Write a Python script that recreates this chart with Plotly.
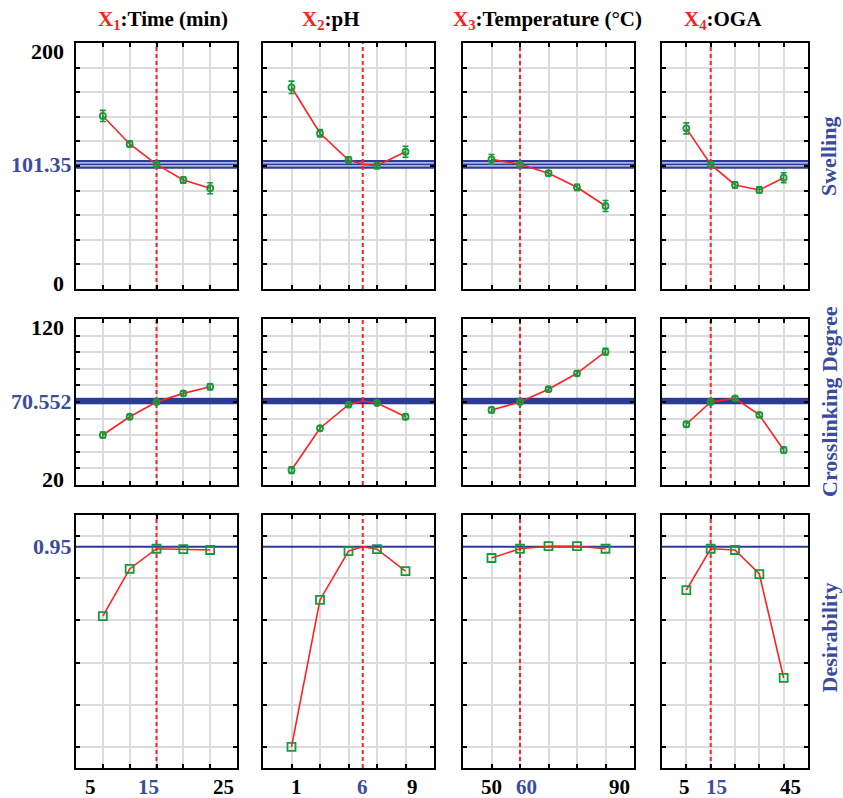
import plotly.graph_objects as go

W, H = 843, 798

# ---- factor levels (x) -------------------------------------------------
time_levels = [5, 10, 15, 20, 25]
ph_levels = [1, 3, 5, 7, 9]
temp_levels = [50, 60, 70, 80, 90]
oga_levels = [5, 15, 25, 35, 45]
optimum = [15, 6, 60, 15]

factor_labels = ["Time (min)", "pH", "Temperature (°C)", "OGA"]
response_labels = ["Swelling", "Crosslinking Degree", "Desirability"]

# x tick labels shown under the bottom row
xtick_vals = [[5, 15, 25], [1, 6, 9], [50, 60, 90], [5, 15, 45]]

# ---- responses at each level -------------------------------------------
swelling_time = [140.7, 117.9, 101.35, 88.6, 81.9]
swelling_ph = [164.0, 126.6, 104.9, 100.3, 111.6]
swelling_temp = [105.4, 101.35, 94.1, 82.7, 67.5]
swelling_oga = [130.6, 101.35, 84.6, 80.5, 90.5]

swelling_err_time = [4.5, 2.5, 2.0, 2.5, 4.5]
swelling_err_ph = [5.0, 3.0, 2.5, 2.5, 4.5]
swelling_err_temp = [4.0, 2.0, 2.0, 2.5, 4.5]
swelling_err_oga = [4.5, 2.0, 2.5, 2.5, 4.0]

crosslink_time = [50.1, 61.1, 70.0, 75.2, 79.2]
crosslink_ph = [29.0, 54.2, 68.4, 69.4, 61.1]
crosslink_temp = [65.2, 70.0, 77.7, 87.3, 100.3]
crosslink_oga = [56.6, 70.0, 72.2, 62.2, 41.1]

crosslink_err_time = [1.8, 1.3, 1.0, 1.3, 1.8]
crosslink_err_ph = [2.0, 1.5, 1.0, 1.2, 1.6]
crosslink_err_temp = [1.6, 1.0, 1.2, 1.4, 2.0]
crosslink_err_oga = [1.6, 1.0, 1.2, 1.4, 1.8]

desir_time = [0.62, 0.844, 0.94, 0.938, 0.934]
desir_ph = [0.0, 0.697, 0.929, 0.938, 0.834]
desir_temp = [0.896, 0.94, 0.952, 0.952, 0.94]
desir_oga = [0.744, 0.94, 0.934, 0.82, 0.327]

# predicted response at the optimum and its confidence half-width
predicted = [101.35, 70.552, 0.95]
predicted_text = ["101.35", "70.552", "0.95"]
ci_half = [2.8, 1.8, 0.0]

# y-axis end labels
yend_vals = [[0, 200], [20, 120], []]

responses = [
    [swelling_time, swelling_ph, swelling_temp, swelling_oga],
    [crosslink_time, crosslink_ph, crosslink_temp, crosslink_oga],
    [desir_time, desir_ph, desir_temp, desir_oga],
]
errors = [
    [swelling_err_time, swelling_err_ph, swelling_err_temp, swelling_err_oga],
    [crosslink_err_time, crosslink_err_ph, crosslink_err_temp, crosslink_err_oga],
    None,
]
levels = [time_levels, ph_levels, temp_levels, oga_levels]

# ---- layout geometry (pixels) ------------------------------------------
col_px = [(76, 237), (263, 434), (463, 634), (662, 808)]
row_px = [(43, 289), (319, 485), (515, 768)]
x_ranges = [[0, 30], [-1, 11], [40, 100], [-5, 55]]
y_ranges = [[0, 200], [20, 120], [-0.1, 1.1]]
y_grids = [
    [20, 40, 60, 80, 100, 120, 140, 160, 180],
    [30, 40, 50, 60, 70, 80, 90, 100, 110],
    [0, 0.2, 0.4, 0.6, 0.8, 1.0],
]

RED = "#ff2020"
BLUE_TXT = "#3b4c9e"
BLUE_LINE = "#2c3b98"
GREEN = "#17993a"
FONT = "Liberation Serif"


def px_x(p):
    return p / W


def px_y(p):
    return 1 - p / H


fig = go.Figure()
annotations = []


def line_trace(x, y, xa, ya, **kw):
    return go.Scatter(x=x, y=y, xaxis=xa, yaxis=ya, mode="lines",
                      hoverinfo="skip", **kw)


for r in range(3):
    for c in range(4):
        k = r * 4 + c + 1
        sfx = "" if k == 1 else str(k)
        xa, ya = "x" + sfx, "y" + sfx

        fig.update_layout(**{
            "xaxis" + sfx: dict(
                domain=[px_x(col_px[c][0]), px_x(col_px[c][1])],
                range=x_ranges[c], anchor=ya,
                tickvals=levels[c], showticklabels=False,
                ticks="inside", ticklen=4, tickwidth=1.5, tickcolor="black",
                showgrid=True, gridcolor="#dcdcdc", gridwidth=1.5,
                showline=True, linecolor="black", linewidth=2, mirror="ticks",
                zeroline=False, fixedrange=True,
            ),
            "yaxis" + sfx: dict(
                domain=[px_y(row_px[r][1]), px_y(row_px[r][0])],
                range=y_ranges[r], anchor=xa,
                tickvals=y_grids[r], showticklabels=False,
                ticks="inside", ticklen=4, tickwidth=1.5, tickcolor="black",
                showgrid=True, gridcolor="#dcdcdc", gridwidth=1.5,
                showline=True, linecolor="black", linewidth=2, mirror="ticks",
                zeroline=False, fixedrange=True,
            ),
        })

        xr = x_ranges[c]
        yr = y_ranges[r]
        p, h = predicted[r], ci_half[r]

        # predicted level with its confidence band
        if r == 0:
            fig.add_trace(line_trace(xr, [p - h] * 2, xa, ya,
                                     line=dict(color=BLUE_LINE, width=2)))
            fig.add_trace(line_trace(xr, [p + h] * 2, xa, ya, fill="tonexty",
                                     fillcolor="#aab2e2",
                                     line=dict(color=BLUE_LINE, width=2)))
            fig.add_trace(line_trace(xr, [p] * 2, xa, ya,
                                     line=dict(color=BLUE_LINE, width=1.2)))
        elif r == 1:
            fig.add_trace(line_trace(xr, [p - h] * 2, xa, ya,
                                     line=dict(color=BLUE_LINE, width=0.5)))
            fig.add_trace(line_trace(xr, [p + h] * 2, xa, ya, fill="tonexty",
                                     fillcolor=BLUE_LINE,
                                     line=dict(color=BLUE_LINE, width=0.5)))
        else:
            fig.add_trace(line_trace(xr, [p] * 2, xa, ya,
                                     line=dict(color=BLUE_LINE, width=2)))

        # optimum setting of the factor
        fig.add_trace(line_trace([optimum[c]] * 2, yr, xa, ya,
                                 line=dict(color=RED, width=2, dash="4px,3px")))

        # profile line passes through the optimum point
        xs = list(levels[c])
        ys = list(responses[r][c])
        if optimum[c] not in xs:
            pts = sorted(zip(xs + [optimum[c]], ys + [predicted[r]]))
            lx, ly = [a for a, _ in pts], [b for _, b in pts]
        else:
            lx, ly = xs, ys
        fig.add_trace(line_trace(lx, ly, xa, ya, line=dict(color=RED, width=1.6)))

        if errors[r] is not None:
            fig.add_trace(go.Scatter(
                x=xs, y=ys, xaxis=xa, yaxis=ya, mode="markers",
                marker=dict(symbol="circle-open", size=6, color=GREEN,
                            line=dict(color=GREEN, width=1.8)),
                error_y=dict(type="data", array=errors[r][c], color=GREEN,
                             thickness=1.6, width=3),
            ))
        else:
            fig.add_trace(go.Scatter(
                x=xs, y=ys, xaxis=xa, yaxis=ya, mode="markers",
                marker=dict(symbol="square-open", size=8, color=GREEN,
                            line=dict(color=GREEN, width=1.8)),
            ))

        # x tick labels along the bottom row
        if r == 2:
            shifts = [[-12, -8, 13], [5, 0, 7], [0, 6, 14], [-2, 6, 7]][c]
            for v, s in zip(xtick_vals[c], shifts):
                col = BLUE_TXT if v == optimum[c] else "black"
                annotations.append(dict(
                    x=v, xref=xa, y=px_y(787), yref="paper",
                    text=f"<b>{v}</b>", showarrow=False, xshift=s,
                    xanchor="center", yanchor="middle",
                    font=dict(family=FONT, size=21, color=col)))

    # y labels on the left of each row
    ya1 = "y" if r == 0 else "y" + str(r * 4 + 1)
    for v in yend_vals[r]:
        lo, hi = y_ranges[r]
        shift = -8 if v == hi else 6
        annotations.append(dict(
            x=px_x(66), xref="paper", y=v, yref=ya1, yshift=shift,
            text=f"<b>{v}</b>", showarrow=False, xanchor="right", yanchor="middle",
            font=dict(family=FONT, size=22, color="black")))
    annotations.append(dict(
        x=px_x(74), xref="paper", y=predicted[r], yref=ya1,
        text=f"<b>{predicted_text[r]}</b>", showarrow=False,
        xanchor="right", yanchor="middle",
        font=dict(family=FONT, size=22, color=BLUE_TXT)))

    # response name on the right
    annotations.append(dict(
        x=px_x(829), xref="paper",
        y=px_y((row_px[r][0] + row_px[r][1]) / 2 + [-9, 0, -4][r]), yref="paper",
        text=f"<b>{response_labels[r]}</b>", showarrow=False, textangle=-90,
        xanchor="center", yanchor="middle",
        font=dict(family=FONT, size=22, color=BLUE_TXT)))

# factor headers
header_x = [163, 331, 547, 723]
for c in range(4):
    annotations.append(dict(
        x=px_x(header_x[c]), xref="paper", y=px_y(20), yref="paper",
        text=f"<b><span style='color:{RED}'>X<sub>{c + 1}</sub></span>:{factor_labels[c]}</b>",
        showarrow=False, xanchor="center", yanchor="middle",
        font=dict(family=FONT, size=21, color="black")))

fig.update_layout(
    width=W, height=H,
    margin=dict(l=0, r=0, t=0, b=0),
    paper_bgcolor="white", plot_bgcolor="white",
    showlegend=False,
    annotations=annotations,
)

fig.write_html("out.html")
